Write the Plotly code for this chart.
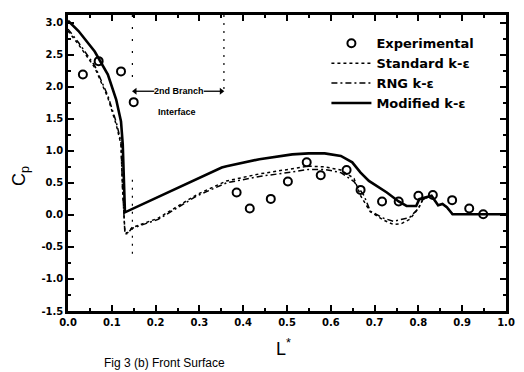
import plotly.graph_objects as go

# Experimental data
L_exp = [0.034, 0.070, 0.121, 0.150, 0.385, 0.415, 0.463, 0.502, 0.545, 0.577,
         0.636, 0.668, 0.717, 0.755, 0.800, 0.833, 0.877, 0.916, 0.948]
Cp_exp = [2.19, 2.40, 2.24, 1.76, 0.35, 0.10, 0.25, 0.52, 0.82, 0.62,
          0.70, 0.39, 0.21, 0.21, 0.30, 0.31, 0.23, 0.10, 0.01]

# Standard k-epsilon
L_std = [0.0, 0.024, 0.061, 0.091, 0.110, 0.121, 0.124, 0.127, 0.130, 0.136, 0.146,
         0.206, 0.295, 0.362, 0.437, 0.512, 0.549, 0.586, 0.623, 0.653, 0.668,
         0.690, 0.720, 0.743, 0.760, 0.780, 0.800, 0.810, 0.830, 0.845, 0.855,
         0.865, 0.878, 1.0]
Cp_std = [2.87, 2.66, 2.30, 1.83, 1.41, 1.10, 0.50, 0.00, -0.28, -0.28, -0.20,
          -0.05, 0.32, 0.53, 0.64, 0.72, 0.76, 0.75, 0.70, 0.57, 0.30,
          0.05, -0.08, -0.15, -0.14, -0.07, 0.10, 0.24, 0.30, 0.15, 0.17,
          0.12, 0.01, 0.01]

# RNG k-epsilon
L_rng = [0.0, 0.024, 0.061, 0.091, 0.110, 0.121, 0.124, 0.127, 0.130, 0.136, 0.146,
         0.206, 0.295, 0.362, 0.437, 0.512, 0.549, 0.586, 0.623, 0.653, 0.676,
         0.690, 0.720, 0.743, 0.780, 0.800, 0.810, 0.830, 0.845, 0.855,
         0.865, 0.878, 1.0]
Cp_rng = [2.90, 2.69, 2.33, 1.86, 1.45, 1.14, 0.50, 0.00, -0.30, -0.29, -0.21,
          -0.07, 0.30, 0.50, 0.60, 0.67, 0.71, 0.71, 0.66, 0.52, 0.30,
          0.06, -0.05, -0.10, -0.04, 0.10, 0.24, 0.30, 0.15, 0.17,
          0.12, 0.01, 0.01]

# Modified k-epsilon
L_mod = [0.0, 0.024, 0.061, 0.091, 0.110, 0.121, 0.125, 0.127, 0.130, 0.351,
         0.362, 0.437, 0.512, 0.549, 0.586, 0.623, 0.649, 0.668, 0.687, 0.728,
         0.755, 0.773, 0.795, 0.802, 0.830, 0.845, 0.855, 0.865, 0.878, 1.0]
Cp_mod = [3.03, 2.87, 2.55, 2.19, 1.80, 1.46, 1.10, 0.50, 0.04, 0.74,
          0.76, 0.87, 0.945, 0.96, 0.96, 0.92, 0.82, 0.66, 0.53, 0.35,
          0.21, 0.14, 0.14, 0.245, 0.30, 0.15, 0.17, 0.12, 0.01, 0.01]

x_ticks = [0.0, 0.1, 0.2, 0.3, 0.4, 0.5, 0.6, 0.7, 0.8, 0.9, 1.0]
x_ticklabels = ["0.0", "0.1", "0.2", "0.3", "0.4", "0.5", "0.6", "0.7", "0.8", "0.9", "1.0"]
y_ticks = [-1.5, -1.0, -0.5, 0.0, 0.5, 1.0, 1.5, 2.0, 2.5, 3.0]
y_ticklabels = ["-1.5", "-1.0", "-0.5", "0.0", "0.5", "1.0", "1.5", "2.0", "2.5", "3.0"]

# interface markers
L_interface = [0.147, 0.356]
L_branch_text = [0.197, 0.310]   # where arrow shafts leave the "2nd Branch" label
Cp_branch = 1.93
Cp_interface_text = 1.60

FONT = "Liberation Sans, Arial, sans-serif"
LFONT = "DejaVu Sans, sans-serif"

fig = go.Figure()
fig.add_trace(go.Scatter(x=L_exp, y=Cp_exp, mode="markers", name="Experimental",
                         marker=dict(symbol="circle-open", size=8, color="black",
                                     line=dict(width=2, color="black"))))
fig.add_trace(go.Scatter(x=L_std, y=Cp_std, mode="lines", name="Standard k-ε",
                         line=dict(color="black", width=1.5, dash="dot")))
fig.add_trace(go.Scatter(x=L_rng, y=Cp_rng, mode="lines", name="RNG k-ε",
                         line=dict(color="black", width=1.5, dash="6px,3px,2px,3px")))
fig.add_trace(go.Scatter(x=L_mod, y=Cp_mod, mode="lines", name="Modified k-ε",
                         line=dict(color="black", width=2.6)))

# interface vertical dotted lines
fig.add_trace(go.Scatter(x=[L_interface[0], L_interface[0]], y=[0.55, -0.62], mode="lines",
                         showlegend=False, line=dict(color="black", width=1.2, dash="2px,6px")))
fig.add_trace(go.Scatter(x=[L_interface[0], L_interface[0]], y=[3.12, 2.0], mode="lines",
                         showlegend=False, line=dict(color="black", width=1.2, dash="2px,10px")))
fig.add_trace(go.Scatter(x=[L_interface[1], L_interface[1]], y=[3.12, 1.9], mode="lines",
                         showlegend=False, line=dict(color="black", width=1.2, dash="2px,6px")))

# 2nd Branch arrows (shafts + heads)
fig.add_trace(go.Scatter(x=[L_branch_text[0], L_interface[0] + 0.006], y=[Cp_branch, Cp_branch],
                         mode="lines", showlegend=False, line=dict(color="black", width=1.3)))
fig.add_trace(go.Scatter(x=[L_branch_text[1], L_interface[1] - 0.006], y=[Cp_branch, Cp_branch],
                         mode="lines", showlegend=False, line=dict(color="black", width=1.3)))
fig.add_trace(go.Scatter(x=[L_interface[0] + 0.006, L_interface[1] - 0.006], y=[Cp_branch, Cp_branch],
                         mode="markers", showlegend=False,
                         marker=dict(symbol=["triangle-left", "triangle-right"], size=6, color="black")))

fig.add_annotation(x=(L_branch_text[0] + L_branch_text[1]) / 2, y=Cp_branch, xref="x", yref="y",
                   showarrow=False, text="<b>2nd Branch</b>",
                   font=dict(size=9, family=FONT, color="black"))
fig.add_annotation(x=0.248, y=Cp_interface_text, xref="x", yref="y", showarrow=False,
                   text="<b>Interface</b>", font=dict(size=9, family=FONT, color="black"))

W, H = 524, 372
ml, mr, mt, mb = 68, 9, 15, 61
pw, ph = W - ml - mr, H - mt - mb


def px(xp, yp):
    return (xp - ml) / pw, (H - mb - yp) / ph


# axis titles and caption
cx, cy = px(20, 176)
fig.add_annotation(x=cx, y=cy, xref="paper", yref="paper", showarrow=False,
                   xanchor="center", yanchor="middle",
                   text="C<sub>p</sub>", textangle=-90,
                   font=dict(size=18, family=FONT, color="black"))
lx, ly = px(288, 347)
fig.add_annotation(x=lx, y=ly, xref="paper", yref="paper", showarrow=False,
                   xanchor="center", yanchor="middle",
                   text="L<sup>*</sup>", font=dict(size=18, family=FONT, color="black"))
fx, fy = px(166, 363)
fig.add_annotation(x=fx, y=fy, xref="paper", yref="paper", showarrow=False,
                   xanchor="center", yanchor="middle",
                   text="Fig 3 (b) Front Surface", font=dict(size=12, family=FONT, color="black"))

axis_common = dict(showline=True, linecolor="black", linewidth=2.5, mirror="ticks",
                   ticks="inside", ticklen=6, tickwidth=2, tickcolor="black",
                   showgrid=False, zeroline=False,
                   tickfont=dict(size=10, family=LFONT, color="black"))

fig.update_xaxes(range=[0, 1.0], tickvals=x_ticks, ticktext=["<b>%s</b>" % t for t in x_ticklabels],
                 minor=dict(ticks="inside", dtick=0.05, ticklen=3, tickwidth=1.5, tickcolor="black"),
                 **axis_common)
fig.update_yaxes(range=[-1.5, 3.12], tickvals=y_ticks, ticktext=["<b>%s</b>" % t for t in y_ticklabels],
                 minor=dict(ticks="inside", dtick=0.25, tick0=-1.5, ticklen=3, tickwidth=1.5, tickcolor="black"),
                 **axis_common)

fig.update_layout(
    width=W, height=H,
    margin=dict(l=ml, r=mr, t=mt, b=mb),
    paper_bgcolor="white", plot_bgcolor="white",
    showlegend=True,
    legend=dict(x=0.59, y=0.955, xanchor="left", yanchor="top",
                bgcolor="rgba(0,0,0,0)", borderwidth=0,
                font=dict(size=13, family=LFONT, color="black"),
                itemwidth=40, tracegroupgap=0),
)
for tr in fig.data:
    if tr.name:
        tr.name = "<b>%s</b>" % tr.name

fig.write_html("out.html")
